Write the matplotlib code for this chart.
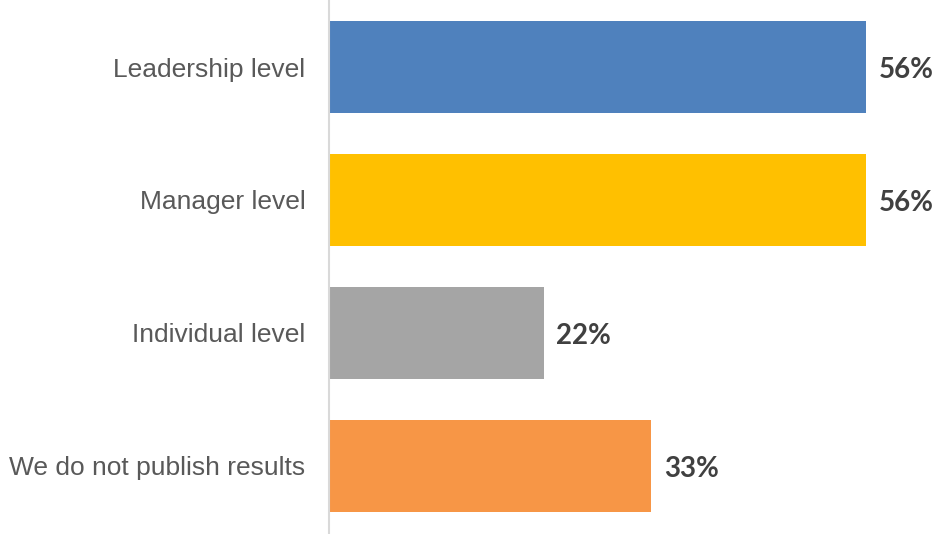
import matplotlib
matplotlib.use("Agg")
import matplotlib.pyplot as plt

# data (5/9, 5/9, 2/9, 3/9 of respondents)
categories = ["Leadership level", "Manager level", "Individual level", "We do not publish results"]
values = [55.56, 55.56, 22.22, 33.33]
labels = ["56%", "56%", "22%", "33%"]
colors = ["#4f81bd", "#ffc000", "#a5a5a5", "#f79646"]

W, H = 941, 534
fig = plt.figure(figsize=(W / 100, H / 100), dpi=100)
ax = fig.add_axes([329 / W, 1 - 532.5 / H, 612 / W, 532 / H])

ypos = list(range(len(categories)))
ax.barh(ypos, values, height=0.69, color=colors)
ax.set_ylim(3.5, -0.5)
ax.set_xlim(0, 612 / (537 / 55.56))

for y, v, lab in zip(ypos, values, labels):
    ax.text(v + 1.3, y + 0.02, lab, va="center", ha="left", fontsize=20,
            fontweight="bold", family="Lato", color="#404040")

ax.set_yticks(ypos)
ax.set_yticklabels(categories, fontsize=19, family="Liberation Sans", color="#595959")
ax.tick_params(axis="y", length=0, pad=17)
ax.set_xticks([])
for s in ["top", "right", "bottom"]:
    ax.spines[s].set_visible(False)
ax.spines["left"].set_color("#d9d9d9")
ax.spines["left"].set_linewidth(1.5)

fig.savefig("out.png", dpi=100)
